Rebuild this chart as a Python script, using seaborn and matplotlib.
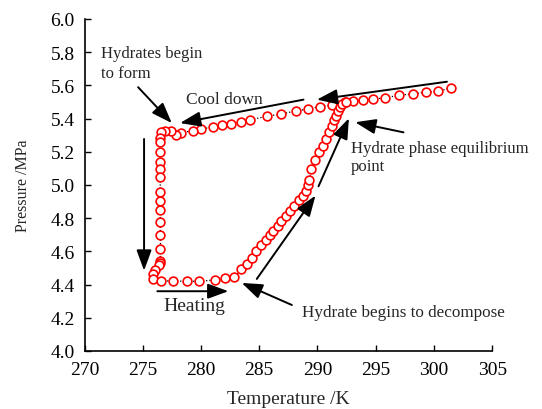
import matplotlib
matplotlib.use("Agg")
import matplotlib.pyplot as plt
import seaborn as sns
import pandas as pd

# ---- data ----
cool_T = [301.46, 300.37, 299.28, 298.20, 297.04, 295.79, 294.76, 293.90, 293.09, 292.35,
          291.26, 290.23, 289.20, 288.17, 286.91, 285.65, 284.22, 283.42, 282.56, 281.81,
          281.07, 279.98, 279.30, 278.32, 277.86, 277.46, 276.94, 276.57]
cool_P = [5.583, 5.566, 5.558, 5.550, 5.540, 5.526, 5.516, 5.510, 5.504, 5.498,
          5.482, 5.472, 5.458, 5.446, 5.428, 5.414, 5.392, 5.381, 5.369, 5.360,
          5.351, 5.336, 5.327, 5.315, 5.301, 5.323, 5.325, 5.317]
drop_T = [276.52, 276.50, 276.50, 276.50, 276.50, 276.50, 276.50, 276.50, 276.50, 276.50,
          276.52, 276.52, 276.50, 276.50, 276.37, 276.08, 275.91, 275.91]
drop_P = [5.280, 5.260, 5.197, 5.140, 5.096, 5.046, 4.960, 4.905, 4.851, 4.775,
          4.697, 4.615, 4.541, 4.530, 4.518, 4.490, 4.464, 4.434]
heat_T = [276.55, 277.63, 278.78, 279.86, 281.19, 282.10, 282.80,
          283.45, 283.93, 284.39, 284.75, 285.19, 285.55, 285.90, 286.22, 286.57, 286.91,
          287.31, 287.65, 288.00, 288.40, 288.75, 289.03, 289.20, 289.31, 289.48, 289.83,
          290.12, 290.46, 290.75, 290.98, 291.26, 291.44, 291.61, 291.78, 291.95, 292.12, 292.41]
heat_P = [4.422, 4.422, 4.420, 4.420, 4.428, 4.438, 4.443,
          4.492, 4.525, 4.562, 4.605, 4.637, 4.666, 4.697, 4.723, 4.755, 4.783,
          4.815, 4.843, 4.875, 4.908, 4.932, 4.962, 4.998, 5.030, 5.096, 5.152,
          5.197, 5.237, 5.277, 5.317, 5.357, 5.390, 5.417, 5.444, 5.468, 5.488, 5.497]

x_ticks = [270, 275, 280, 285, 290, 295, 300, 305]
y_ticks = [4.0, 4.2, 4.4, 4.6, 4.8, 5.0, 5.2, 5.4, 5.6, 5.8, 6.0]

df = pd.DataFrame({
    "T": cool_T + drop_T + heat_T,
    "P": cool_P + drop_P + heat_P,
})

sns.set_theme(style="ticks")
plt.rcParams["font.family"] = ["Liberation Serif", "DejaVu Serif"]

fig = plt.figure(figsize=(5.42, 4.10), dpi=100)
ax = fig.add_axes([0.156, 0.1415, 0.752, 0.8098])

sns.lineplot(data=df, x="T", y="P", sort=False, estimator=None, ax=ax,
             color="black", linestyle=(0, (1, 1.6)), linewidth=0.9,
             marker="o", markersize=6.3, markerfacecolor="white",
             markeredgecolor="red", markeredgewidth=1.2)

ax.set_xlim(270, 305)
ax.set_ylim(4.0, 6.0)
ax.set_xticks(x_ticks)
ax.set_yticks(y_ticks)
ax.set_yticklabels([f"{v:.1f}" for v in y_ticks])
ax.tick_params(direction="in", length=4, width=1.0, labelsize=14, pad=7,
               colors="black")
for s in ["top", "right"]:
    ax.spines[s].set_visible(False)
for s in ["left", "bottom"]:
    ax.spines[s].set_linewidth(1.2)
    ax.spines[s].set_color("black")

ax.set_xlabel("Temperature /K", fontsize=14, labelpad=9)
ax.set_ylabel("Pressure /MPa", fontsize=11.5, labelpad=14)

arrow = dict(arrowstyle="-|>,head_length=0.9,head_width=0.33", color="black",
             lw=1.4, mutation_scale=14, shrinkA=0, shrinkB=0)

def arr(tip, start):
    ax.annotate("", xy=tip, xytext=start, arrowprops=arrow)

arr((277.49, 5.373), (274.6, 5.589))
arr((278.20, 5.373), (288.80, 5.514))
arr((289.95, 5.514), (301.12, 5.622))
arr((275.11, 4.484), (275.11, 5.277))
arr((282.35, 4.360), (276.25, 4.360))
arr((292.70, 5.402), (290.09, 4.992))
arr((289.83, 4.936), (284.79, 4.434))
arr((283.50, 4.410), (287.80, 4.277))
arr((293.24, 5.378), (297.39, 5.317))

ax.text(271.42, 5.735, "Hydrates begin\nto form", fontsize=12, ha="left",
        va="center", linespacing=1.4)
ax.text(281.98, 5.518, "Cool down", fontsize=12.5, ha="center", va="center")
ax.text(292.87, 5.167, "Hydrate phase equilibrium\npoint", fontsize=12,
        ha="left", va="center", linespacing=1.15)
ax.text(279.41, 4.271, "Heating", fontsize=14, ha="center", va="center")
ax.text(288.66, 4.237, "Hydrate begins to decompose", fontsize=12.3,
        ha="left", va="center")

fig.savefig("out.png", dpi=100)
